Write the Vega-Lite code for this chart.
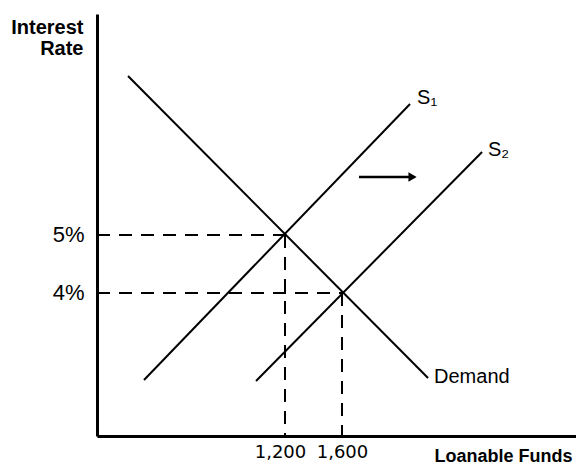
{
  "$schema": "https://vega.github.io/schema/vega-lite/v6.json",
  "width": 479,
  "height": 422,
  "autosize": "none",
  "padding": {"left": 97, "top": 14, "right": 0, "bottom": 30},
  "background": "white",
  "config": {"view": {"stroke": null}, "font": "Liberation Sans"},
  "datasets": {
    "curves": [
      {"curve": "Demand", "x": 98.3, "y": 7.741},
      {"curve": "Demand", "x": 2203.7, "y": 2.534},
      {"curve": "S1", "x": 210.5, "y": 2.5},
      {"curve": "S1", "x": 2077.3, "y": 7.258},
      {"curve": "S2", "x": 996.6, "y": 2.482},
      {"curve": "S2", "x": 2582.6, "y": 6.431}
    ],
    "dashes": [
      {"x": -119.3, "y": 5, "x2": 1200, "y2": 5},
      {"x": -119.3, "y": 4, "x2": 1600, "y2": 4},
      {"x": 1200, "y": 5, "x2": 1200, "y2": 1.534},
      {"x": 1600, "y": 4, "x2": 1600, "y2": 1.534}
    ],
    "labels": [
      {"x": 2126.5, "y": 7.362, "text": "S₁"},
      {"x": 2624.7, "y": 6.465, "text": "S₂"},
      {"x": 2245.8, "y": 2.551, "text": "Demand"}
    ],
    "arrow": [
      {"x": 1719.4, "y": 6.0, "x2": 2080, "y2": 6.0}
    ],
    "arrowhead": [
      {"x": 2095, "y": 6.0}
    ]
  },
  "encoding": {
    "x": {
      "field": "x", "type": "quantitative",
      "scale": {"domain": [-119.3, 3242], "nice": false, "zero": false},
      "axis": {
        "values": [1200, 1600], "format": ",d", "ticks": false, "grid": false,
        "domainColor": "black", "domainWidth": 3,
        "labelFontSize": 18, "labelColor": "black", "labelPadding": 7, "labelFont": "DejaVu Sans",
        "labelOffset": {"condition": {"test": "datum.value == 1200", "value": -5}, "value": 0},
        "title": "Loanable Funds", "titleFontSize": 18, "titleFontWeight": "bold", "titleColor": "black",
        "titleAlign": "right", "titleAnchor": null, "titleX": 475, "titleY": 20, "titleBaseline": "middle"
      }
    },
    "y": {
      "field": "y", "type": "quantitative",
      "scale": {"domain": [1.534, 8.81], "nice": false, "zero": false},
      "axis": {
        "values": [4, 5], "labelExpr": "datum.value + '%'", "ticks": false, "grid": false,
        "domainColor": "black", "domainWidth": 3,
        "labelFontSize": 22, "labelColor": "black", "labelPadding": 13, "labelFont": "Liberation Sans",
        "title": ["Interest", "Rate"], "titleFontSize": 20, "titleFontWeight": "bold", "titleColor": "black",
        "titleAngle": 0, "titleAlign": "right", "titleAnchor": null, "titleX": -14, "titleY": 13,
        "titleBaseline": "middle", "titleLineHeight": 21
      }
    }
  },
  "layer": [
    {
      "data": {"name": "curves"},
      "mark": {"type": "line", "color": "black", "strokeWidth": 2},
      "encoding": {"detail": {"field": "curve"}}
    },
    {
      "data": {"name": "dashes"},
      "mark": {"type": "rule", "color": "black", "strokeWidth": 2, "strokeDash": [13, 9]},
      "encoding": {"x2": {"field": "x2"}, "y2": {"field": "y2"}}
    },
    {
      "data": {"name": "arrow"},
      "mark": {"type": "rule", "color": "black", "strokeWidth": 2.5},
      "encoding": {"x2": {"field": "x2"}, "y2": {"field": "y2"}}
    },
    {
      "data": {"name": "arrowhead"},
      "mark": {"type": "point", "shape": "triangle-right", "filled": true, "color": "black", "size": 90, "opacity": 1}
    },
    {
      "data": {"name": "labels"},
      "mark": {"type": "text", "align": "left", "baseline": "middle", "fontSize": 20, "color": "black", "font": "Liberation Sans"},
      "encoding": {"text": {"field": "text"}}
    }
  ]
}
